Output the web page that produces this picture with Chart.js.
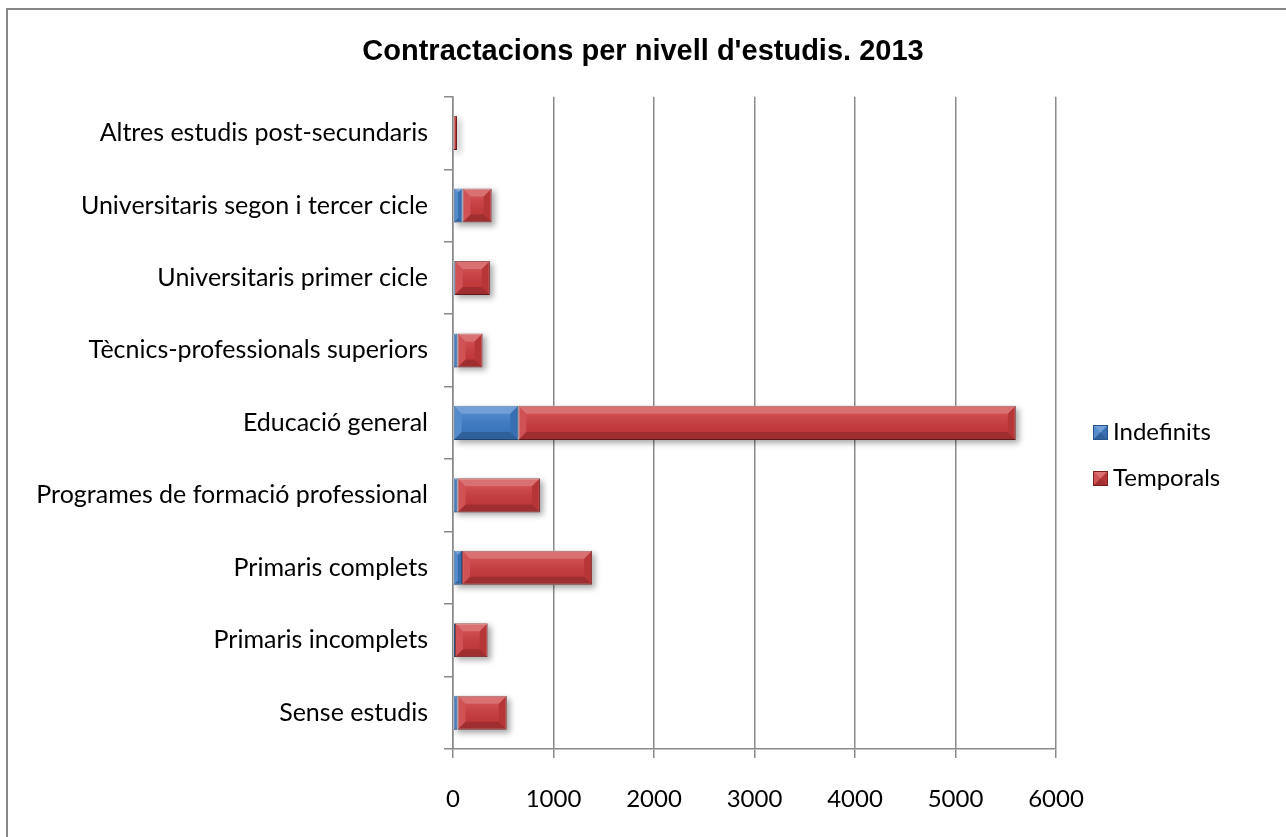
<!DOCTYPE html>
<html>
<head>
<meta charset="utf-8">
<script src="https://cdn.jsdelivr.net/npm/chart.js@4.4.1/dist/chart.umd.min.js"></script>
<style>
  html, body { margin: 0; padding: 0; background: #ffffff; }
  #wrap { position: relative; width: 1286px; height: 837px; overflow: hidden; }
  #frame { position: absolute; left: 6px; top: 8px; width: 1290px; height: 840px; border-left: 2px solid #878787; border-top: 2px solid #878787; box-sizing: border-box; pointer-events: none; }
  canvas { position: absolute; left: 0; top: 0; }
</style>
</head>
<body>
<div id="wrap">
  <canvas id="c" width="1286" height="837"></canvas>
  <div id="frame"></div>
</div>
<script>
const chartTitle = "Contractacions per nivell d'estudis. 2013";
const categories = [
  "Altres estudis post-secundaris",
  "Universitaris segon i tercer cicle",
  "Universitaris primer cicle",
  "Tècnics-professionals superiors",
  "Educació general",
  "Programes de formació professional",
  "Primaris complets",
  "Primaris incomplets",
  "Sense estudis"
];
const seriesNames = ["Indefinits", "Temporals"];
const indefinits = [5, 95, 17, 45, 650, 45, 90, 20, 45];
const temporals  = [35, 290, 350, 250, 4950, 820, 1295, 325, 490];
const xTicks = [0, 1000, 2000, 3000, 4000, 5000, 6000];

const BLUE = '#3d7bc6';
const RED = '#cb3b3d';

function shade(ctx, x0, y0, x1, y1, b) {
  const w = x1 - x0, h = y1 - y0;
  b = Math.min(b, w / 2, h / 2);
  ctx.save();
  ctx.fillStyle = 'rgba(255,255,255,0.28)';
  ctx.beginPath(); ctx.moveTo(x0, y0); ctx.lineTo(x1, y0); ctx.lineTo(x1 - b, y0 + b); ctx.lineTo(x0 + b, y0 + b); ctx.closePath(); ctx.fill();
  ctx.fillStyle = 'rgba(255,255,255,0.12)';
  ctx.beginPath(); ctx.moveTo(x0, y0); ctx.lineTo(x0 + b, y0 + b); ctx.lineTo(x0 + b, y1 - b); ctx.lineTo(x0, y1); ctx.closePath(); ctx.fill();
  ctx.fillStyle = 'rgba(0,0,0,0.10)';
  ctx.beginPath(); ctx.moveTo(x1, y0); ctx.lineTo(x1 - b, y0 + b); ctx.lineTo(x1 - b, y1 - b); ctx.lineTo(x1, y1); ctx.closePath(); ctx.fill();
  ctx.fillStyle = 'rgba(0,0,0,0.22)';
  ctx.beginPath(); ctx.moveTo(x0, y1); ctx.lineTo(x1, y1); ctx.lineTo(x1 - b, y1 - b); ctx.lineTo(x0 + b, y1 - b); ctx.closePath(); ctx.fill();
  const g = ctx.createLinearGradient(0, y0 + b, 0, y1 - b);
  g.addColorStop(0, 'rgba(255,255,255,0.10)');
  g.addColorStop(1, 'rgba(0,0,0,0.06)');
  ctx.fillStyle = g;
  ctx.fillRect(x0 + b, y0 + b, Math.max(0, w - 2 * b), Math.max(0, h - 2 * b));
  ctx.restore();
}

function legendIcon(color, border) {
  const c = document.createElement('canvas');
  c.width = 15; c.height = 15;
  const x = c.getContext('2d');
  x.fillStyle = color; x.fillRect(0, 0, 15, 15);
  shade(x, 0, 0, 15, 15, 7.5);
  x.strokeStyle = border; x.lineWidth = 1; x.strokeRect(0.5, 0.5, 14, 14);
  return c;
}
const iconBlue = legendIcon(BLUE, '#25558f');
const iconRed = legendIcon(RED, '#7a1f20');

const bevelPlugin = {
  id: 'bevel',
  beforeInit(chart) {
    const lg = chart.legend;
    if (lg) {
      const origFit = lg.fit.bind(lg);
      lg.fit = function () { origFit(); this.width = 1286 - 1056; };
    }
  },
  afterLayout(chart) {
    const lg = chart.legend;
    if (lg) { lg.left += 22; lg.right += 22; lg.top += 37; lg.bottom += 37; }
  },
  beforeDatasetsDraw(chart) {
    const ctx = chart.ctx;
    const metas = chart.getSortedVisibleDatasetMetas();
    if (!metas.length) return;
    ctx.save();
    ctx.shadowColor = 'rgba(0,0,0,0.35)';
    ctx.shadowBlur = 6;
    ctx.shadowOffsetX = 3;
    ctx.shadowOffsetY = 3;
    ctx.fillStyle = '#ffffff';
    const n = metas[0].data.length;
    for (let i = 0; i < n; i++) {
      let minX = Infinity, maxX = -Infinity, top = 0, bottom = 0;
      metas.forEach(m => {
        const p = m.data[i].getProps(['x', 'base', 'y', 'height'], true);
        minX = Math.min(minX, p.x, p.base); maxX = Math.max(maxX, p.x, p.base);
        top = p.y - p.height / 2; bottom = p.y + p.height / 2;
      });
      ctx.fillRect(minX, top, maxX - minX, bottom - top);
    }
    ctx.restore();
  },
  afterDatasetDraw(chart, args) {
    const ctx = chart.ctx;
    ctx.save();
    const a = chart.chartArea;
    ctx.beginPath(); ctx.rect(a.left, a.top, a.right - a.left, a.bottom - a.top); ctx.clip();
    args.meta.data.forEach(el => {
      const p = el.getProps(['x', 'base', 'y', 'height'], true);
      const x0 = Math.min(p.x, p.base), x1 = Math.max(p.x, p.base);
      if (x1 - x0 < 0.5) return;
      shade(ctx, x0, p.y - p.height / 2, x1, p.y + p.height / 2, 8);
    });
    ctx.restore();
  }
};

new Chart(document.getElementById('c'), {
  type: 'bar',
  data: {
    labels: categories,
    datasets: [
      { label: seriesNames[0], data: indefinits, backgroundColor: BLUE, borderColor: '#25558f', borderWidth: 1, borderSkipped: false, pointStyle: iconBlue },
      { label: seriesNames[1], data: temporals, backgroundColor: RED, borderColor: '#7a1f20', borderWidth: 1, borderSkipped: false, pointStyle: iconRed }
    ]
  },
  options: {
    indexAxis: 'y',
    responsive: false,
    animation: false,
    devicePixelRatio: 1,
    layout: { padding: { left: 0, right: 0, top: 0, bottom: 0 } },
    datasets: { bar: { categoryPercentage: 1.0, barPercentage: 0.47 } },
    scales: {
      x: {
        stacked: true,
        min: 0, max: 6000,
        afterBuildTicks(scale) { scale.ticks = xTicks.map(v => ({ value: v })); },
        afterFit(scale) { scale.height = 88; },
        grid: { color: '#8a8a8a', lineWidth: 1.5, drawTicks: true, tickLength: 9, tickColor: '#8a8a8a' },
        border: { color: '#8a8a8a', width: 1.5 },
        ticks: { color: '#000', font: { family: 'Lato', size: 24 }, padding: 27, maxRotation: 0, callback: v => String(v) }
      },
      y: {
        stacked: true,
        offset: true,
        afterFit(scale) { scale.width = 453; },
        grid: { offset: true, drawOnChartArea: false, drawTicks: true, tickLength: 9, color: '#8a8a8a', lineWidth: 1.5 },
        border: { color: '#8a8a8a', width: 1.5 },
        ticks: { color: '#000', font: { family: 'Lato', size: 25 }, padding: 16, autoSkip: false }
      }
    },
    plugins: {
      title: {
        display: true,
        text: chartTitle,
        color: '#000',
        font: { family: 'Liberation Sans', size: 29, weight: 'bold' },
        padding: { top: 35, bottom: 27 }
      },
      legend: {
        display: true,
        position: 'right',
        align: 'center',
        labels: {
          color: '#000',
          font: { family: 'Lato', size: 24 },
          usePointStyle: true,
          boxWidth: 1, boxHeight: 15,
          padding: 22
        }
      },
      tooltip: { enabled: false }
    }
  },
  plugins: [bevelPlugin]
});
</script>
</body>
</html>
